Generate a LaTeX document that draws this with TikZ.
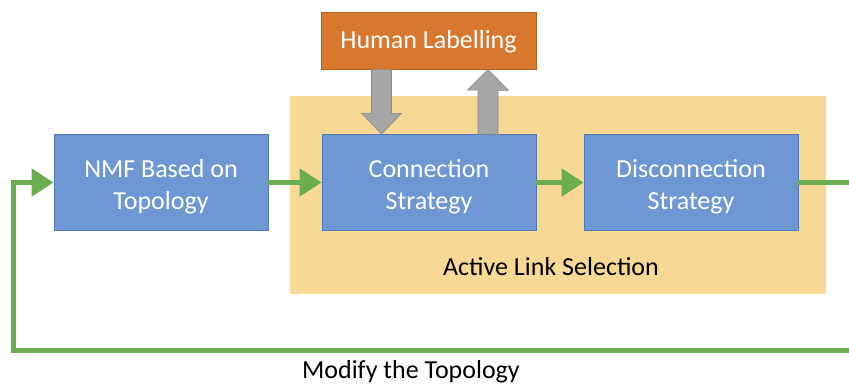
\documentclass[tikz,border=0pt]{standalone}
\usepackage{fontspec}
\setmainfont{Carlito}
\usepackage{xcolor}
\usetikzlibrary{arrows.meta,positioning}

\definecolor{boxblue}{HTML}{6E97D4}
\definecolor{boxedge}{HTML}{5377B3}
\definecolor{labelorange}{HTML}{D8782F}
\definecolor{orangeedge}{HTML}{B2611F}
\definecolor{zonefill}{HTML}{F7D995}
\definecolor{linkgreen}{HTML}{6AAE4F}
\definecolor{arrowgrey}{HTML}{A6A6A6}
\definecolor{greyedge}{HTML}{8A8A8A}

\newcommand{\toppad}{\rule{0pt}{27pt}}

\begin{document}
\begin{tikzpicture}[x=1pt,y=-1pt,
  every node/.style={font=\fontsize{26}{32}\selectfont, inner sep=0pt},
  stepbox/.style={draw=boxedge, line width=0.8pt, fill=boxblue, text=white,
    minimum width=214pt, minimum height=96pt, align=center},
  humanbox/.style={draw=orangeedge, line width=0.8pt, fill=labelorange, text=white,
    minimum width=215pt, minimum height=57pt},
  zone/.style={fill=zonefill, minimum width=536pt, minimum height=198pt},
  link/.style={draw=linkgreen, line width=5pt},
  linkarrow/.style={link, -{Triangle[length=22pt,width=27pt]}},
  blockarrow/.style={fill=arrowgrey, draw=greyedge, line width=0.6pt}]

\useasboundingbox (0,0) rectangle (849,384);

% Active link selection zone
\node[zone] (sel) at (558,195) {};
\node (seltext) at (551,267) {Active Link Selection};

% Boxes
\node[stepbox] (nmf) at (161,182.5) {\toppad NMF Based on\\Topology};
\node[stepbox] (conn) at (429,182.5) {\toppad Connection\\Strategy};
\node[stepbox] (disc) at (691,182.5) {\toppad Disconnection\\Strategy};
\node[humanbox] (hum) at (428.5,40.5) {\rule{0pt}{21pt}Human Labelling};

% Grey block arrows
\draw[blockarrow] ([xshift=-57pt]hum.south) -- ++(20,0) -- ++(0,44) -- ++(10,0)
  -- ([xshift=-47.5pt]conn.north) -- ++(-20,-21) -- ++(10,0) -- cycle;
\draw[blockarrow] ([xshift=49pt]conn.north) -- ++(0,-44) -- ++(-10.5,0)
  -- ([xshift=59.5pt]hum.south) -- ++(20.5,21) -- ++(-10.5,0) -- ++(0,44) -- cycle;

% Green links
\draw[linkarrow] (nmf) -- (conn);
\draw[linkarrow] (conn) -- (disc);
\coordinate (rightturn) at (856,182.5);
\coordinate (leftturn) at (13,350);
\draw[linkarrow] (disc.east) -- (rightturn) |- (leftturn) |- (nmf.west);

% Loop label
\node (loop) at (411,372) {Modify the Topology};

\end{tikzpicture}
\end{document}
